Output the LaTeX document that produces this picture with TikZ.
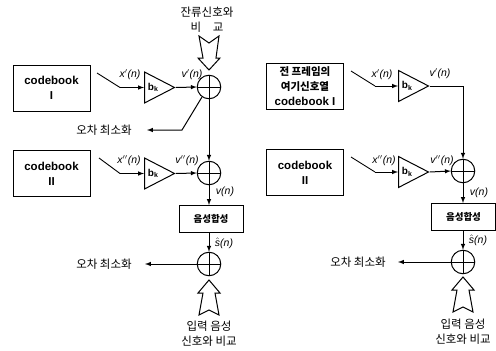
\documentclass[tikz,border=0pt]{standalone}
\usepackage{amsmath,amssymb}
\usepackage{fontspec}
\setmainfont{Liberation Sans}
\newfontfamily\kor{Noto Sans CJK KR}
\usetikzlibrary{shapes.geometric,arrows}
\tikzset{
  cbox/.style={draw, line width=1pt, minimum width=77, minimum height=46, align=center, font=\fontsize{11.5}{15}\selectfont\bfseries},
  synth/.style={draw, line width=1pt, minimum width=64, minimum height=27, font=\kor\fontsize{9.5}{10}\selectfont\bfseries},
  amp/.style={draw, line width=1pt, isosceles triangle, isosceles triangle stretches, minimum width=31, minimum height=30, inner sep=0pt, anchor=lower side, font=\fontsize{10}{10}\selectfont\bfseries},
  sumnode/.style={draw, line width=1pt, circle, minimum size=23.5, inner sep=0pt, path picture={
    \draw[line width=0.7pt] (path picture bounding box.west) -- (path picture bounding box.east);
    \draw[line width=0.7pt] (path picture bounding box.north) -- (path picture bounding box.south);}},
  sig/.style={font=\itshape\fontsize{10.5}{11}\selectfont, inner sep=0pt},
  kortext/.style={font=\kor\fontsize{11.5}{15}\selectfont, align=center, inner sep=0pt},
  wire/.style={line width=1pt, -latex},
  plainwire/.style={line width=0.9pt},
  openarr/.style={line width=1pt, line join=miter, fill=white}
}
\begin{document}
\begin{tikzpicture}[x=1pt,y=-1pt]
\useasboundingbox (0,0) rectangle (496,351);
% left diagram
\node [cbox] (cbone) at (51.5,88) {codebook\\I};
\node [cbox] (cbtwo) at (51.5,173.5) {codebook\\II};
\node [amp] (ampone) at (144,87.5) {b$_{\text{k}}$};
\node [amp] (amptwo) at (144,173.5) {b$_{\text{k}}$};
\node [sumnode] (sumone) at (209,87) {};
\node [sumnode] (sumtwo) at (209,173) {};
\node [synth] (syn) at (211,218.5) {음성합성};
\node [sumnode] (sumout) at (209,264) {};
\coordinate (swone) at (97,73);
\coordinate (swonem) at (120,87.5);
\coordinate (swtwo) at (99,158);
\coordinate (swtwom) at (120,173.5);
\coordinate (errbend) at (182,130);
\coordinate (errend) at (147,130);
\coordinate (outend) at (145,264);
\coordinate (synin) at (209,205);
\coordinate (synout) at (209,232);
\draw [plainwire] (swone) -- (swonem);
\draw [wire] (swonem) -- (ampone.lower side);
\draw [plainwire] (swtwo) -- (swtwom);
\draw [wire] (swtwom) -- (amptwo.lower side);
\draw [wire] (ampone.apex) -- (sumone.west);
\draw [wire] (amptwo.apex) -- (sumtwo.west);
\draw [wire] (sumone.south) -- (sumtwo.north);
\draw [wire] (sumone.235) -- (errbend) -- (errend);
\draw [wire] (sumtwo.south) -- (synin);
\draw [wire] (synout) -- (sumout.north);
\draw [wire] (sumout.west) -- (outend);
\node [sig] (xone) at (130,75) {x$'$(n)};
\node [sig] (vone) at (192,75) {v$'$(n)};
\node [sig] (xtwo) at (129,161) {x$''$(n)};
\node [sig] (vtwo) at (187,161) {v$''$(n)};
\node [sig] (vn) at (225,192) {v(n)};
\node [sig] (sn) at (224,243) {$\hat{\text{s}}$(n)};
\node [kortext] (topcmp) at (207,20) {잔류신호와\\비\quad 교};
\node [kortext] (errone) at (104,130) {오차 최소화};
\node [kortext] (errtwo) at (104,264) {오차 최소화};
\node [kortext] (incmp) at (209,334) {입력 음성\\신호와 비교};
\draw [openarr] (199,36) -- (209,43) -- (219,36) -- (216,58) -- (220,58) -- (209,70) -- (198,58) -- (203,58) -- cycle;
% right diagram
\node [cbox] (pcbone) at (305,86.5) {\kor\fontsize{10.5}{14}\selectfont 전 프레임의\\\kor\fontsize{10.5}{14}\selectfont 여기신호열\\codebook I};
\node [cbox] (pcbtwo) at (305,172.5) {codebook\\II};
\node [amp] (pampone) at (398,86) {b$_{\text{k}}$};
\node [amp] (pamptwo) at (398,172) {b$_{\text{k}}$};
\node [sumnode] (psumtwo) at (463,171) {};
\node [synth] (psyn) at (463.5,217) {음성합성};
\node [sumnode] (psumout) at (463,262) {};
\coordinate (pswone) at (351,71);
\coordinate (pswonem) at (375,86);
\coordinate (pswtwo) at (351,157);
\coordinate (pswtwom) at (375,172);
\coordinate (pbend) at (463,86);
\coordinate (poutend) at (398,262);
\coordinate (psynin) at (463,203);
\coordinate (psynout) at (463,231);
\draw [plainwire] (pswone) -- (pswonem);
\draw [wire] (pswonem) -- (pampone.lower side);
\draw [plainwire] (pswtwo) -- (pswtwom);
\draw [wire] (pswtwom) -- (pamptwo.lower side);
\draw [wire] (pampone.apex) -- (pbend) -- (psumtwo.north);
\draw [wire] (pamptwo.apex) -- (psumtwo.west);
\draw [wire] (psumtwo.south) -- (psynin);
\draw [wire] (psynout) -- (psumout.north);
\draw [wire] (psumout.west) -- (poutend);
\node [sig] (pxone) at (382,75) {x$'$(n)};
\node [sig] (pvone) at (440,74) {v$'$(n)};
\node [sig] (pxtwo) at (384,161) {x$''$(n)};
\node [sig] (pvtwo) at (442,161) {v$''$(n)};
\node [sig] (pvn) at (479,193) {v(n)};
\node [sig] (psn) at (478,240) {$\hat{\text{s}}$(n)};
\node [kortext] (perr) at (358,262) {오차 최소화};
\node [kortext] (pincmp) at (463,332) {입력 음성\\신호와 비교};
\foreach \px/\py in {209/280,463/277}
\draw [openarr,shift={(\px,\py)}] (0,0) -- (11,13) -- (6,13) -- (10,35) -- (0,30) -- (-10,35) -- (-6,13) -- (-11,13) -- cycle;
\end{tikzpicture}
\end{document}
